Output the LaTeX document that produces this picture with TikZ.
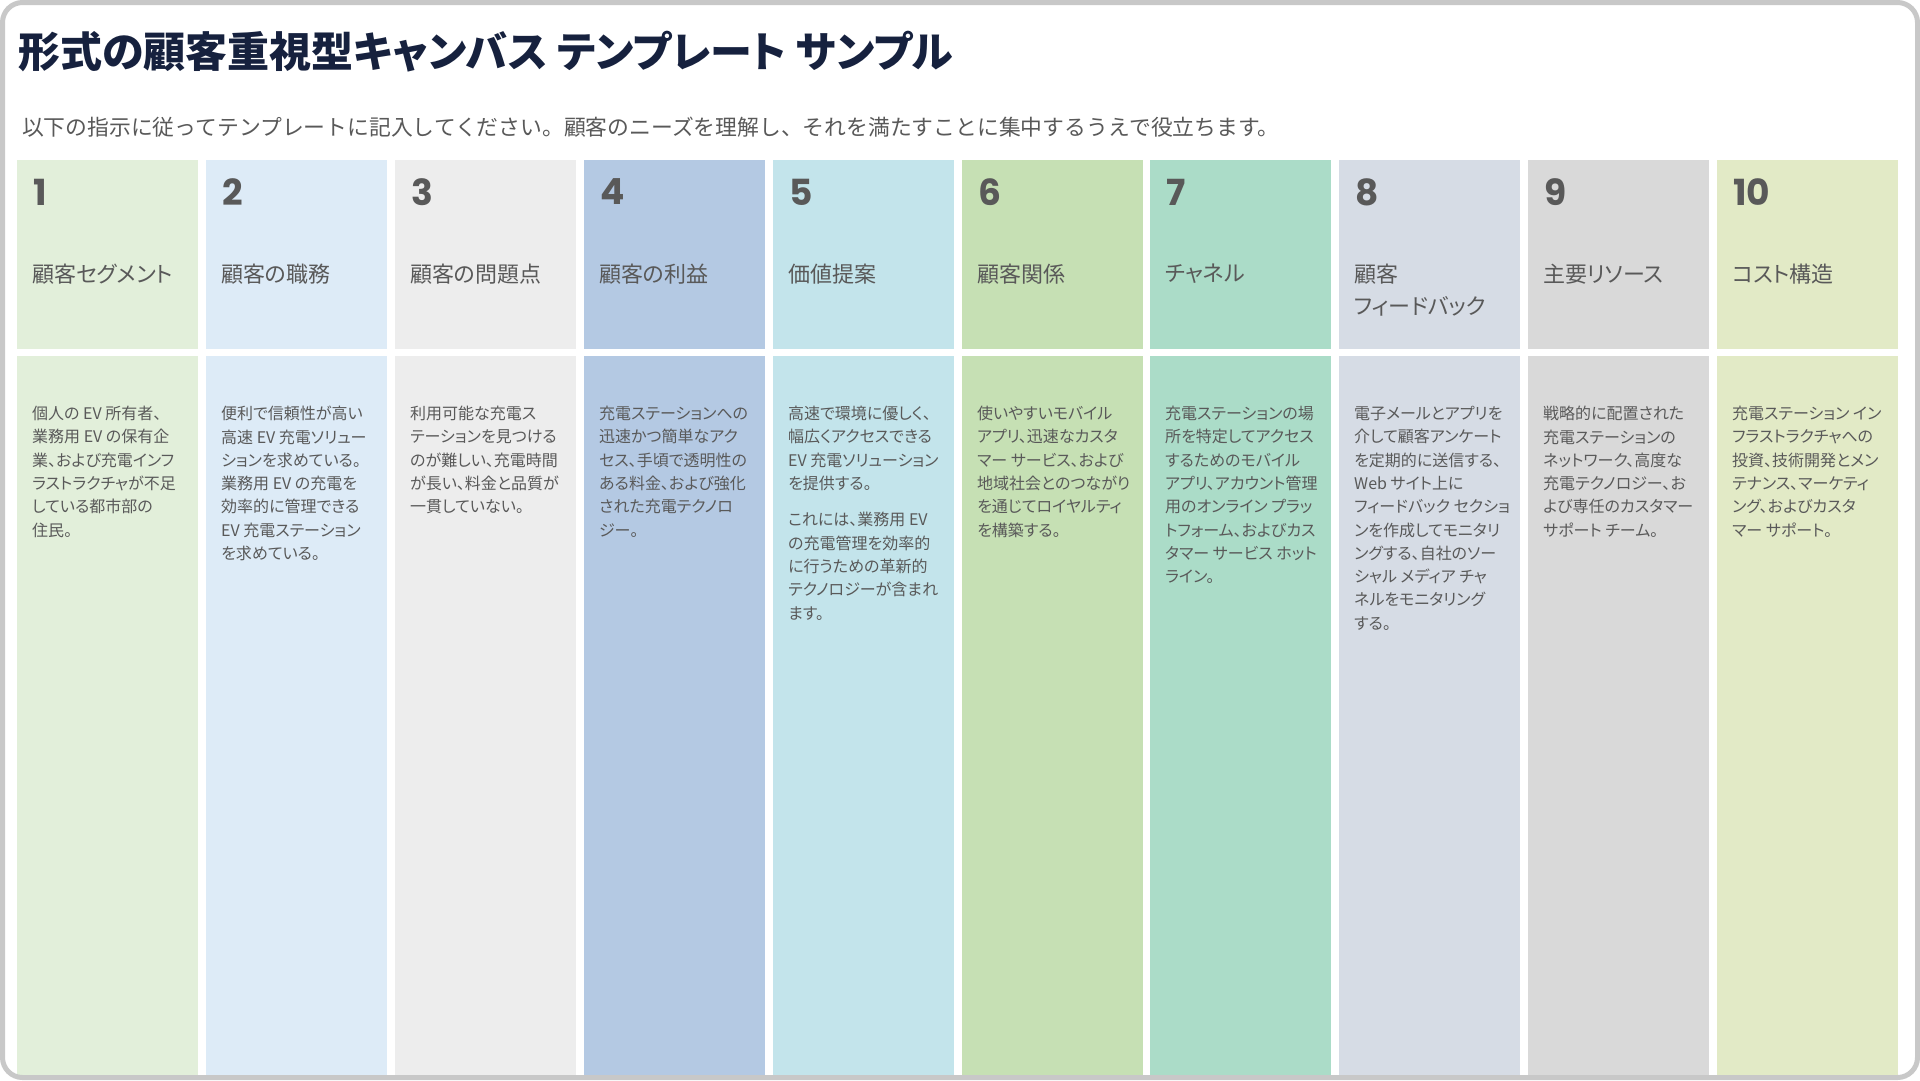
\documentclass[tikz,border=0pt]{standalone}
\usepackage{fontspec}
\setmainfont{Noto Sans CJK JP}[RawFeature=+palt]
\newfontfamily\llano{Noto Sans CJK JP}
\newfontfamily\numfont{Poppins}
\definecolor{tinta}{HTML}{16213E}
\definecolor{gristxt}{HTML}{595959}
\definecolor{marco}{HTML}{C8C8C8}
\definecolor{cA}{HTML}{E2EFDA}
\definecolor{cB}{HTML}{DDEBF7}
\definecolor{cC}{HTML}{EDEDED}
\definecolor{cD}{HTML}{B4C9E3}
\definecolor{cE}{HTML}{C3E4EB}
\definecolor{cF}{HTML}{C6E0B4}
\definecolor{cG}{HTML}{ABDCC8}
\definecolor{cH}{HTML}{D6DCE5}
\definecolor{cI}{HTML}{D9D9D9}
\definecolor{cJ}{HTML}{E2EAC6}
\begin{document}
\begin{tikzpicture}[x=1pt, y=-1pt,
    num/.style={anchor=west, inner sep=0, text=gristxt, font=\numfont\bfseries\fontsize{36}{40}\selectfont},
    head/.style={anchor=north west, inner sep=0, align=left, text=gristxt, font=\fontsize{22}{32}\selectfont},
    body/.style={anchor=north west, inner sep=0, align=left, text=gristxt, font=\fontsize{16}{23.3}\selectfont}]
    % Fondo
    \fill[white] (0,0) rectangle (1920,1080);

    % Titulo y subtitulo
    \node[anchor=west, inner sep=0, text=tinta, font=\bfseries\fontsize{42}{46}\selectfont] (titulo) at (18,52) {形式の顧客重視型キャンバス テンプレート サンプル};
    \node[anchor=west, inner sep=0, text=gristxt, font=\llano\fontsize{21.8}{24}\selectfont] (sub) at (22,127) {以下の指示に従ってテンプレートに記入してください。顧客のニーズを理解し、それを満たすことに集中するうえで役立ちます。};

    % Columna 1
    \fill[cA] (17,160) rectangle (198,349);
    \fill[cA] (17,356) rectangle (198,1075);
    \node[num] (n1) at (33,192) {1};
    \node[head] (h1) at (32,264) {顧客セグメント};
    \node[body] (b1) at (32,406) {個人の EV 所有者、\\業務用 EV の保有企\\業、および充電インフ\\ラストラクチャが不足\\している都市部の\\住民。};

    % Columna 2
    \fill[cB] (206,160) rectangle (387,349);
    \fill[cB] (206,356) rectangle (387,1075);
    \node[num] (n2) at (222,192) {2};
    \node[head] (h2) at (221,264) {顧客の職務};
    \node[body] (b2) at (221,406) {便利で信頼性が高い\\高速 EV 充電ソリュー\\ションを求めている。\\業務用 EV の充電を\\効率的に管理できる\\EV 充電ステーション\\を求めている。};

    % Columna 3
    \fill[cC] (395,160) rectangle (576,349);
    \fill[cC] (395,356) rectangle (576,1075);
    \node[num] (n3) at (411,192) {3};
    \node[head] (h3) at (410,264) {顧客の問題点};
    \node[body] (b3) at (410,406) {利用可能な充電ス\\テーションを見つける\\のが難しい、充電時間\\が長い、料金と品質が\\一貫していない。};

    % Columna 4
    \fill[cD] (584,160) rectangle (765,349);
    \fill[cD] (584,356) rectangle (765,1075);
    \node[num] (n4) at (600,192) {4};
    \node[head] (h4) at (599,264) {顧客の利益};
    \node[body] (b4) at (599,406) {充電ステーションへの\\迅速かつ簡単なアク\\セス、手頃で透明性の\\ある料金、および強化\\された充電テクノロ\\ジー。};

    % Columna 5
    \fill[cE] (773,160) rectangle (954,349);
    \fill[cE] (773,356) rectangle (954,1075);
    \node[num] (n5) at (789,192) {5};
    \node[head] (h5) at (788,264) {価値提案};
    \node[body] (b5) at (788,406) {高速で環境に優しく、\\幅広くアクセスできる\\EV 充電ソリューション\\を提供する。\\[13pt]これには、業務用 EV\\の充電管理を効率的\\に行うための革新的\\テクノロジーが含まれ\\ます。};

    % Columna 6
    \fill[cF] (962,160) rectangle (1143,349);
    \fill[cF] (962,356) rectangle (1143,1075);
    \node[num] (n6) at (978,192) {6};
    \node[head] (h6) at (977,264) {顧客関係};
    \node[body] (b6) at (977,406) {使いやすいモバイル\\アプリ、迅速なカスタ\\マー サービス、および\\地域社会とのつながり\\を通じてロイヤルティ\\を構築する。};

    % Columna 7
    \fill[cG] (1150,160) rectangle (1331,349);
    \fill[cG] (1150,356) rectangle (1331,1075);
    \node[num] (n7) at (1166,192) {7};
    \node[head] (h7) at (1165,264) {チャネル};
    \node[body] (b7) at (1165,406) {充電ステーションの場\\所を特定してアクセス\\するためのモバイル\\アプリ、アカウント管理\\用のオンライン プラッ\\トフォーム、およびカス\\タマー サービス ホット\\ライン。};

    % Columna 8
    \fill[cH] (1339,160) rectangle (1520,349);
    \fill[cH] (1339,356) rectangle (1520,1075);
    \node[num] (n8) at (1355,192) {8};
    \node[head] (h8) at (1354,264) {顧客\\フィードバック};
    \node[body] (b8) at (1354,406) {電子メールとアプリを\\介して顧客アンケート\\を定期的に送信する、\\Web サイト上に\\フィードバック セクショ\\ンを作成してモニタリ\\ングする、自社のソー\\シャル メディア チャ\\ネルをモニタリング\\する。};

    % Columna 9
    \fill[cI] (1528,160) rectangle (1709,349);
    \fill[cI] (1528,356) rectangle (1709,1075);
    \node[num] (n9) at (1544,192) {9};
    \node[head] (h9) at (1543,264) {主要リソース};
    \node[body] (b9) at (1543,406) {戦略的に配置された\\充電ステーションの\\ネットワーク、高度な\\充電テクノロジー、お\\よび専任のカスタマー\\サポート チーム。};

    % Columna 10
    \fill[cJ] (1717,160) rectangle (1898,349);
    \fill[cJ] (1717,356) rectangle (1898,1075);
    \node[num] (n10) at (1733,192) {10};
    \node[head] (h10) at (1732,264) {コスト構造};
    \node[body] (b10) at (1732,406) {充電ステーション イン\\フラストラクチャへの\\投資、技術開発とメン\\テナンス、マーケティ\\ング、およびカスタ\\マー サポート。};

    % Marco
    \draw[marco, line width=5, rounded corners=20] (2.5,2.5) rectangle (1917.5,1077.5);
\end{tikzpicture}
\end{document}
